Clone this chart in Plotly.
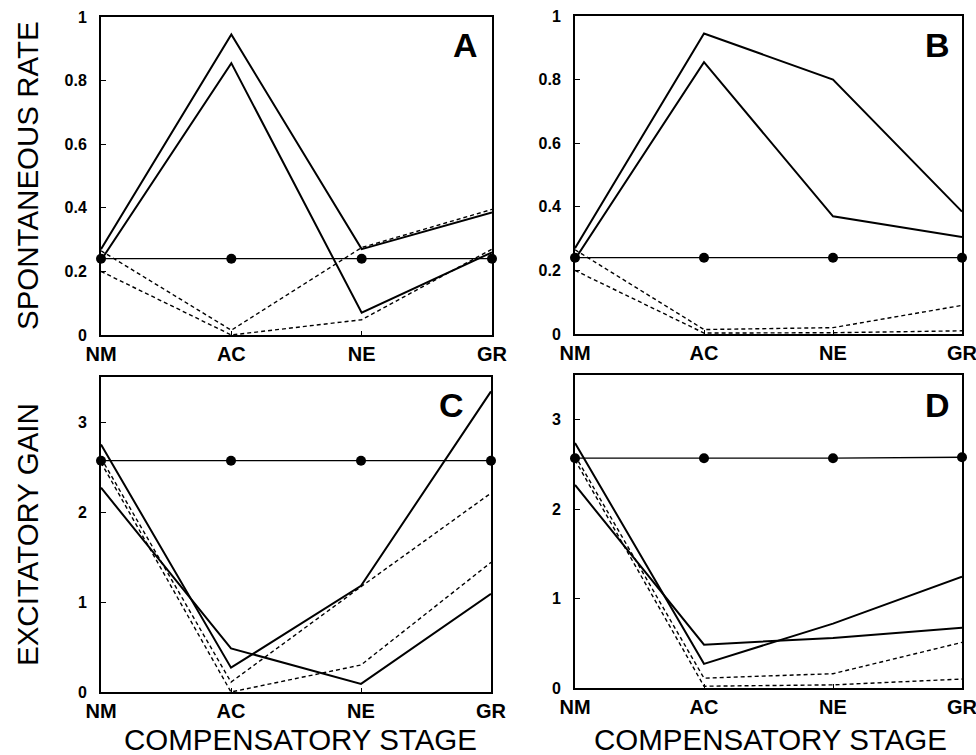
import plotly.graph_objects as go

stages = ["NM", "AC", "NE", "GR"]

# Panel A: spontaneous rate
a_ref = [0.24, 0.24, 0.24, 0.24]
a_solid1 = [0.27, 0.945, 0.27, 0.385]
a_solid2 = [0.235, 0.855, 0.07, 0.26]
a_dash1 = [0.265, 0.015, 0.275, 0.395]
a_dash2 = [0.20, 0.0, 0.048, 0.27]

# Panel B: spontaneous rate
b_ref = [0.24, 0.24, 0.24, 0.24]
b_solid1 = [0.27, 0.945, 0.80, 0.385]
b_solid2 = [0.235, 0.855, 0.37, 0.305]
b_dash1 = [0.265, 0.014, 0.02, 0.09]
b_dash2 = [0.20, 0.003, 0.004, 0.01]

# Panel C: excitatory gain
c_ref = [2.57, 2.57, 2.57, 2.57]
c_solid1 = [2.75, 0.27, 1.18, 3.34]
c_solid2 = [2.27, 0.485, 0.09, 1.09]
c_dash1 = [2.6, 0.11, 1.17, 2.21]
c_dash2 = [2.55, 0.0, 0.30, 1.44]

# Panel D: excitatory gain
d_ref = [2.57, 2.57, 2.57, 2.58]
d_solid1 = [2.74, 0.27, 0.72, 1.245]
d_solid2 = [2.27, 0.485, 0.56, 0.675]
d_dash1 = [2.6, 0.11, 0.16, 0.51]
d_dash2 = [2.55, 0.02, 0.035, 0.10]

rate_ticks = [0, 0.2, 0.4, 0.6, 0.8, 1]
rate_ticktext = ["0", "0.2", "0.4", "0.6", "0.8", "1"]
gain_ticks = [0, 1, 2, 3]
gain_ticktext = ["0", "1", "2", "3"]

panel_letters = ["A", "B", "C", "D"]
y_titles = ["SPONTANEOUS RATE", "EXCITATORY GAIN"]
x_title = "COMPENSATORY STAGE"

W, H = 976, 755
FONT = "Liberation Sans, Arial, sans-serif"

fig = go.Figure()

panels = [
    (a_ref, a_solid1, a_solid2, a_dash1, a_dash2),
    (b_ref, b_solid1, b_solid2, b_dash1, b_dash2),
    (c_ref, c_solid1, c_solid2, c_dash1, c_dash2),
    (d_ref, d_solid1, d_solid2, d_dash1, d_dash2),
]

# pixel domains
xdoms = [(101, 492), (575, 962), (101, 491), (575, 962)]
ydoms = [(17, 335), (16, 334), (377, 692), (375, 688)]

for i, (ref, s1, s2, d1, d2) in enumerate(panels):
    n = i + 1
    xa = "x" if n == 1 else f"x{n}"
    ya = "y" if n == 1 else f"y{n}"
    for ys in (d1, d2):
        fig.add_trace(go.Scatter(x=stages, y=ys, xaxis=xa, yaxis=ya, mode="lines",
                                 line=dict(color="black", width=1.4, dash="4px,3px"),
                                 showlegend=False, cliponaxis=False))
    for ys in (s1, s2):
        fig.add_trace(go.Scatter(x=stages, y=ys, xaxis=xa, yaxis=ya, mode="lines",
                                 line=dict(color="black", width=2),
                                 showlegend=False, cliponaxis=False))
    fig.add_trace(go.Scatter(x=stages, y=ref, xaxis=xa, yaxis=ya, mode="lines+markers",
                             line=dict(color="black", width=1.3),
                             marker=dict(color="black", size=10),
                             showlegend=False, cliponaxis=False))

    x0, x1 = xdoms[i]
    y0, y1 = ydoms[i]
    xkey = "xaxis" if n == 1 else f"xaxis{n}"
    ykey = "yaxis" if n == 1 else f"yaxis{n}"
    top = i < 2
    fig.layout[xkey] = dict(
        domain=[x0 / W, x1 / W], anchor=ya, type="category",
        categoryorder="array", categoryarray=stages, range=[0, 3],
        showline=True, linecolor="black", linewidth=2, mirror=True,
        ticks="inside", ticklen=4, tickcolor="black", tickwidth=1,
        showgrid=False, zeroline=False, automargin=False,
        tickfont=dict(family=FONT, size=20, color="black", weight="bold"),
        ticklabelstandoff=0,
    )
    fig.layout[ykey] = dict(
        domain=[1 - y1 / H, 1 - y0 / H], anchor=xa,
        range=[0, 1] if top else [0, 3.5],
        tickvals=rate_ticks if top else gain_ticks,
        ticktext=rate_ticktext if top else gain_ticktext,
        showline=True, linecolor="black", linewidth=2, mirror=True,
        ticks="inside", ticklen=5, tickcolor="black", tickwidth=1,
        showgrid=False, zeroline=False, automargin=False,
        tickfont=dict(family=FONT, size=16, color="black", weight="bold"),
        ticklabelstandoff=9,
    )

annotations = []
letter_pos = [(465, 45), (937, 45), (451, 405), (937, 405)]
for letter, (px, py) in zip(panel_letters, letter_pos):
    annotations.append(dict(text=letter, x=px / W, y=1 - py / H, xref="paper", yref="paper",
                            showarrow=False, xanchor="center", yanchor="middle",
                            font=dict(family=FONT, size=34, color="black", weight="bold")))
for title, py in zip(y_titles, (176, 535)):
    annotations.append(dict(text=title, x=27 / W, y=1 - py / H, xref="paper", yref="paper",
                            showarrow=False, textangle=-90, xanchor="center", yanchor="middle",
                            font=dict(family=FONT, size=29.5, color="black")))
for px in (300, 770):
    annotations.append(dict(text=x_title, x=px / W, y=1 - 739 / H, xref="paper", yref="paper",
                            showarrow=False, xanchor="center", yanchor="middle",
                            font=dict(family=FONT, size=29.5, color="black")))

fig.update_layout(
    width=W, height=H, margin=dict(l=0, r=0, t=0, b=0),
    paper_bgcolor="white", plot_bgcolor="white",
    annotations=annotations, showlegend=False,
)

fig.write_html("out.html", config={"displayModeBar": False},
               post_script="document.body.style.margin='0px';document.body.style.overflow='hidden';")
